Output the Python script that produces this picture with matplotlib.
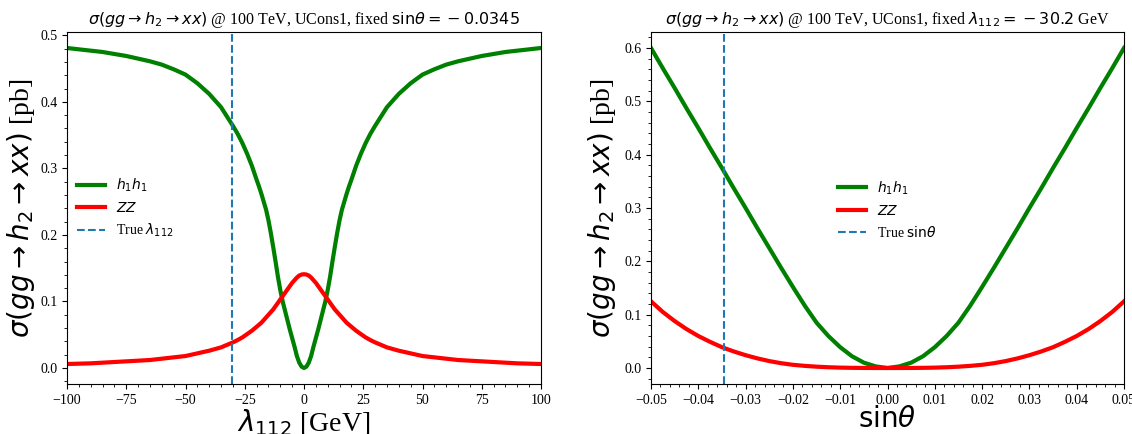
import matplotlib
matplotlib.use("Agg")
import matplotlib.pyplot as plt

plt.rcParams['font.family'] = 'serif'
plt.rcParams['font.serif'] = ['Liberation Serif', 'DejaVu Serif']
plt.rcParams['mathtext.fontset'] = 'dejavusans'

# ---- Left panel: scan in lambda_112 [GeV] ----
lam = [-100, -95, -90, -85, -80, -75, -70, -65, -60, -55, -50, -45, -40, -35, -30,
       -28, -26, -24, -22, -20, -19, -18, -17, -16, -15, -14, -13, -12, -11, -10,
       -9, -8, -7, -6, -5, -4, -3, -2, -1, 0,
       1, 2, 3, 4, 5, 6, 7, 8, 9, 10, 11, 12, 13, 14, 15, 16, 17, 18, 19, 20,
       22, 24, 26, 28, 30, 35, 40, 45, 50, 55, 60, 65, 70, 75, 80, 85, 90, 95, 100]
lam_h1h1 = [0.481, 0.479, 0.477, 0.475, 0.472, 0.469, 0.465, 0.461, 0.456, 0.449, 0.441,
            0.428, 0.412, 0.392, 0.364, 0.352, 0.338, 0.322, 0.304, 0.283, 0.273,
            0.262, 0.250, 0.238, 0.222, 0.203, 0.182, 0.160, 0.137, 0.117,
            0.100, 0.086, 0.072, 0.058, 0.045, 0.032, 0.018, 0.008, 0.002, 0.000,
            0.002, 0.008, 0.018, 0.032, 0.045, 0.058, 0.072, 0.086, 0.100, 0.117,
            0.137, 0.160, 0.182, 0.203, 0.222, 0.238, 0.250, 0.262, 0.273, 0.283,
            0.304, 0.322, 0.338, 0.352, 0.364, 0.392, 0.412, 0.428, 0.441, 0.449,
            0.456, 0.461, 0.465, 0.469, 0.472, 0.475, 0.477, 0.479, 0.481]
lam_zz = [0.0060, 0.0065, 0.0070, 0.0080, 0.0090, 0.0100, 0.0110, 0.0120, 0.0140, 0.0160,
          0.0180, 0.0220, 0.0260, 0.0310, 0.0385, 0.0420, 0.0460, 0.0510, 0.0560, 0.0620,
          0.0650, 0.0680, 0.0720, 0.0760, 0.0800, 0.0840, 0.0880, 0.0930, 0.0980, 0.1030,
          0.1080, 0.1130, 0.1180, 0.1230, 0.1280, 0.1320, 0.1360, 0.1390, 0.1405, 0.1410,
          0.1405, 0.1390, 0.1360, 0.1320, 0.1280, 0.1230, 0.1180, 0.1130, 0.1080, 0.1030,
          0.0980, 0.0930, 0.0880, 0.0840, 0.0800, 0.0760, 0.0720, 0.0680, 0.0650, 0.0620,
          0.0560, 0.0510, 0.0460, 0.0420, 0.0385, 0.0310, 0.0260, 0.0220, 0.0180, 0.0160,
          0.0140, 0.0120, 0.0110, 0.0100, 0.0090, 0.0080, 0.0070, 0.0065, 0.0060]
lam_true = -30.2
lam_ticks = [-100, -75, -50, -25, 0, 25, 50, 75, 100]

# ---- Right panel: scan in sin(theta) ----
sth = [-0.05, -0.0475, -0.045, -0.0425, -0.04, -0.0375, -0.035, -0.0325, -0.03, -0.0275,
       -0.025, -0.0225, -0.02, -0.0175, -0.015, -0.0125, -0.01, -0.0075, -0.005, -0.0025,
       0.0, 0.0025, 0.005, 0.0075, 0.01, 0.0125, 0.015, 0.0175, 0.02, 0.0225, 0.025,
       0.0275, 0.03, 0.0325, 0.035, 0.0375, 0.04, 0.0425, 0.045, 0.0475, 0.05]
sth_h1h1 = [0.600, 0.562, 0.525, 0.487, 0.450, 0.412, 0.375, 0.337, 0.300, 0.262,
            0.225, 0.188, 0.152, 0.117, 0.085, 0.060, 0.039, 0.022, 0.010, 0.003,
            0.000, 0.003, 0.010, 0.022, 0.039, 0.060, 0.085, 0.117, 0.152, 0.188, 0.225,
            0.262, 0.300, 0.337, 0.375, 0.412, 0.450, 0.487, 0.525, 0.562, 0.600]
sth_zz = [0.125, 0.105, 0.088, 0.073, 0.060, 0.049, 0.039, 0.031, 0.024, 0.018,
          0.013, 0.009, 0.006, 0.004, 0.0025, 0.0014, 0.0007, 0.0003, 0.0001, 0.0,
          0.0, 0.0, 0.0001, 0.0003, 0.0007, 0.0014, 0.0025, 0.004, 0.006, 0.009, 0.013,
          0.018, 0.024, 0.031, 0.039, 0.049, 0.060, 0.073, 0.088, 0.105, 0.125]
sth_true = -0.0345
sth_ticks = [-0.05, -0.04, -0.03, -0.02, -0.01, 0.0, 0.01, 0.02, 0.03, 0.04, 0.05]

fig = plt.figure(figsize=(11.32, 4.34), dpi=100)
ax1 = fig.add_axes([67/1132, 1-384/434, 474/1132, 352/434])
ax2 = fig.add_axes([651/1132, 1-384/434, 473/1132, 352/434])

ylab = r'$\sigma(gg \rightarrow h_2 \rightarrow xx)$ [pb]'

ax1.plot(lam, lam_h1h1, color='green', lw=3, label=r'$h_1h_1$')
ax1.plot(lam, lam_zz, color='red', lw=3, label=r'$ZZ$')
ax1.axvline(lam_true, color='#1f77b4', ls='--', lw=1.5, label=r'True $\lambda_{112}$')
ax1.set_xlim(-100, 100)
ax1.set_xticks(lam_ticks)
ax1.set_xlabel(r'$\lambda_{112}$ [GeV]', fontsize=20, labelpad=0)
ax1.set_ylabel(ylab, fontsize=20, labelpad=2)
ax1.set_title(r'$\sigma(gg \rightarrow h_2 \rightarrow xx)$ @ 100 TeV, UCons1, fixed '
              r'$\mathrm{sin}\theta = {} - 0.0345$', fontsize=11.5)
ax1.legend(loc='center left', bbox_to_anchor=(0.01, 0.50), frameon=False, fontsize=10,
           borderaxespad=0)

ax2.plot(sth, sth_h1h1, color='green', lw=3, label=r'$h_1h_1$')
ax2.plot(sth, sth_zz, color='red', lw=3, label=r'$ZZ$')
ax2.axvline(sth_true, color='#1f77b4', ls='--', lw=1.5, label=r'True $\mathrm{sin}\theta$')
ax2.set_xlim(-0.05, 0.05)
ax2.set_xticks(sth_ticks)
ax2.set_xlabel(r'$\mathrm{sin}\theta$', fontsize=20, labelpad=0)
ax2.set_ylabel(ylab, fontsize=20)
ax2.set_title(r'$\sigma(gg \rightarrow h_2 \rightarrow xx)$ @ 100 TeV, UCons1, fixed '
              r'$\lambda_{112} = {} - 30.2$ GeV', fontsize=11.5)
ax2.legend(loc='center left', bbox_to_anchor=(0.384, 0.496), frameon=False, fontsize=10,
           borderaxespad=0)

for ax in (ax1, ax2):
    ax.minorticks_on()
    ax.tick_params(labelsize=10)

fig.savefig('out.png', dpi=100)
